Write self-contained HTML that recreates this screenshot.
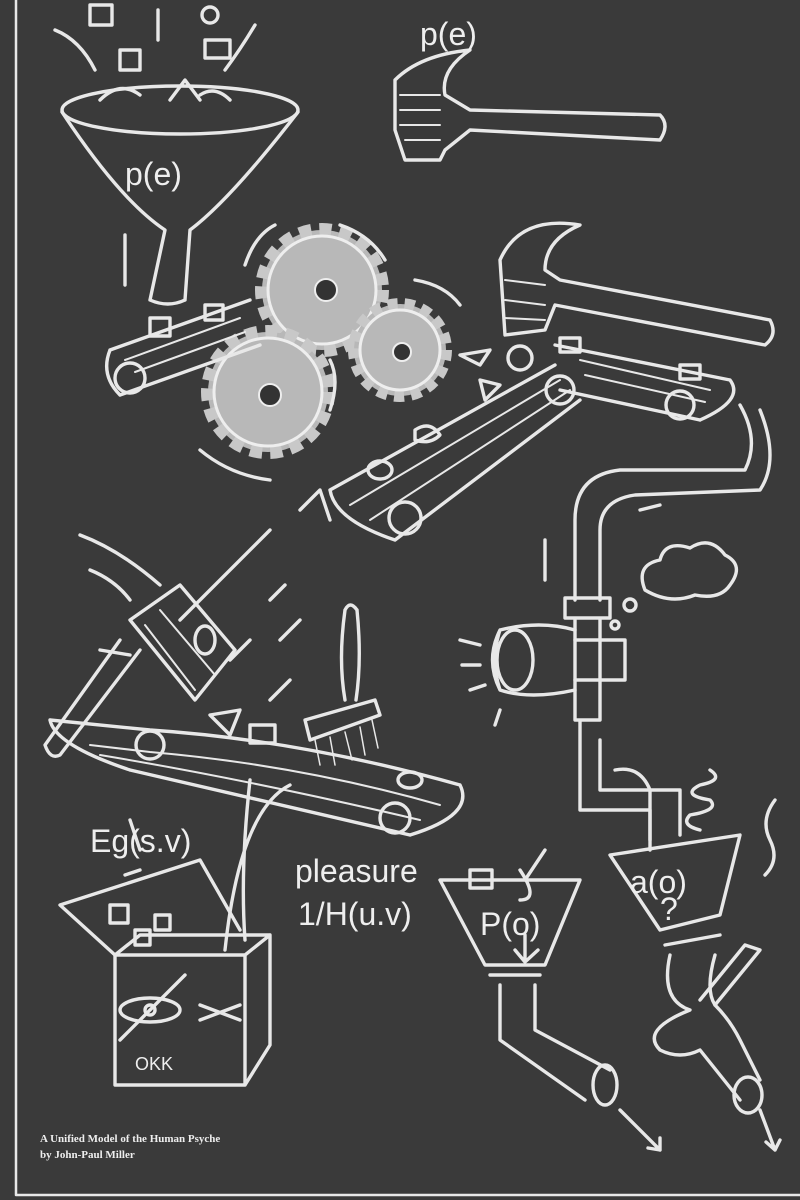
<!DOCTYPE html>
<html><head><meta charset="utf-8"><style>
html,body{margin:0;padding:0;background:#3b3b3b;}
svg{display:block}
text{font-family:"Liberation Sans",sans-serif;fill:#eee}
</style></head><body>
<svg width="800" height="1200" viewBox="0 0 800 1200" xmlns="http://www.w3.org/2000/svg">
<rect width="800" height="1200" fill="#3a3a3a"/>
<!-- gears filled -->
<g fill="#b8b8b8" stroke="#eee" stroke-width="3">
<circle cx="322" cy="290" r="60" stroke-dasharray="12 8" stroke-width="14" stroke="#c8c8c8"/>
<circle cx="322" cy="290" r="54"/>
<circle cx="268" cy="392" r="60" stroke-dasharray="12 8" stroke-width="14" stroke="#c8c8c8"/>
<circle cx="268" cy="392" r="54"/>
<circle cx="400" cy="350" r="46" stroke-dasharray="10 7" stroke-width="12" stroke="#c8c8c8"/>
<circle cx="400" cy="350" r="40"/>
</g>
<g fill="#333" stroke="#eee" stroke-width="2">
<circle cx="326" cy="290" r="11"/><circle cx="270" cy="395" r="11"/><circle cx="402" cy="352" r="9"/>
</g>
<g fill="none" stroke="#e8e8e8" stroke-width="3.4" stroke-linecap="round" stroke-linejoin="round">
<!-- frame -->
<path d="M16 0 V1195 H800" stroke-width="2.5"/>
<!-- top funnel -->
<ellipse cx="180" cy="110" rx="118" ry="24"/>
<path d="M62 112 Q120 200 165 230 L150 300 M298 112 Q230 200 190 230 L185 300 M150 300 Q168 308 185 300"/>
<path d="M100 100 Q120 80 140 95 M170 100 L185 80 200 100 M200 95 Q215 85 230 100"/>
<rect x="90" y="5" width="22" height="20"/><rect x="120" y="50" width="20" height="20"/><rect x="205" y="40" width="25" height="18"/><circle cx="210" cy="15" r="8"/>
<path d="M55 30 Q80 40 95 70 M158 10 V40 M255 25 Q240 50 225 70 M125 235 V285"/>
<!-- hammer 1 -->
<path d="M395 80 Q420 55 470 50 Q440 70 445 95 L470 110 L660 115 Q670 125 660 140 L470 130 L445 150 L440 160 L405 160 L395 130 Z"/>
<path d="M400 95 L440 95 M400 110 L440 110 M400 125 L440 125 M405 140 L440 140" stroke-width="2"/>
<!-- conveyor 1 -->
<path d="M110 350 L250 300 M120 395 L260 345 M110 350 Q100 375 120 395"/>
<path d="M125 360 L240 318 M135 372 L245 332" stroke-width="2"/>
<circle cx="130" cy="378" r="15"/>
<rect x="150" y="318" width="20" height="18"/><rect x="205" y="305" width="18" height="15"/>
<path d="M245 265 Q255 235 275 225 M340 225 Q370 235 385 260 M200 450 Q230 475 270 480 M330 410 Q340 380 330 360 M415 280 Q445 285 460 305"/>
<!-- hammer 2 -->
<path d="M500 260 Q520 215 580 225 Q545 240 545 270 L560 280 L770 320 Q778 335 765 345 L555 305 L545 330 L505 335 Z"/>
<path d="M505 280 L545 285 M505 300 L545 305 M505 318 L545 320" stroke-width="2"/>
<!-- conveyor 2 -->
<path d="M330 490 L555 365 M395 540 L580 400 M330 490 Q335 520 395 540"/>
<path d="M350 505 L560 380 M370 520 L570 390" stroke-width="2"/>
<circle cx="405" cy="518" r="16"/><circle cx="560" cy="390" r="14"/>
<path d="M555 345 L730 380 M560 390 L700 420 M730 380 Q745 400 700 420"/>
<path d="M580 360 L710 390 M585 375 L705 402" stroke-width="2"/>
<circle cx="680" cy="405" r="14"/><circle cx="520" cy="358" r="12"/>
<rect x="560" y="338" width="20" height="14"/><rect x="680" y="365" width="20" height="14"/><path d="M460 355 L490 350 480 365 Z M480 380 L500 385 485 400 Z"/><ellipse cx="380" cy="470" rx="12" ry="9"/><path d="M415 430 Q430 420 440 435 Q430 445 415 440 Z"/>
<!-- pipe -->
<path d="M740 405 Q760 440 745 470 L620 470 Q575 475 575 520 L575 600 M760 410 Q780 460 760 490 L635 495 Q600 500 600 530 L600 600"/>
<rect x="565" y="598" width="45" height="20"/><path d="M575 620 V720 L600 720 V620 M580 720 V810 L650 810 V850 M600 740 V790 L680 790 V835"/>
<path d="M575 690 Q530 700 500 690 Q490 660 500 630 Q540 620 575 630 M500 630 Q485 660 500 690 M575 640 L625 640 L625 680 L575 680"/>
<ellipse cx="515" cy="660" rx="18" ry="30"/>
<path d="M460 640 L480 645 M462 665 H480 M470 690 L485 685 M495 725 L500 710"/>
<path d="M645 590 Q635 565 660 560 Q665 540 690 548 Q710 535 725 555 Q745 565 730 585 Q720 600 695 595 Q670 605 645 590 Z"/>
<circle cx="630" cy="605" r="6"/><circle cx="615" cy="625" r="4"/>
<path d="M545 540 V580 M640 510 L660 505"/>
<!-- sledgehammer -->
<path d="M130 620 L180 585 L235 650 L195 700 Z M140 650 L60 755 Q50 760 45 745 L120 640"/>
<path d="M145 625 L195 690 M160 610 L215 675" stroke-width="2"/>
<ellipse cx="205" cy="640" rx="10" ry="14"/>
<path d="M80 535 Q120 550 160 585 M90 570 Q115 580 130 600 M100 650 L130 655"/>
<!-- broom -->
<path d="M345 610 Q338 660 345 700 M357 610 Q362 660 356 700 M345 610 Q350 600 357 610 M305 720 L375 700 L380 715 L310 740 Z"/>
<path d="M315 740 L320 765 M330 737 L335 765 M345 732 L352 760 M360 727 L365 755 M372 720 L378 748" stroke-width="1.5"/>
<!-- conveyor 3 -->
<path d="M50 720 L150 730 Q300 740 460 785 M130 770 L410 835 M50 720 Q55 745 130 770 M460 785 Q475 815 410 835"/>
<path d="M90 745 L150 752 Q300 765 440 805 M100 755 Q250 780 420 820" stroke-width="2"/>
<circle cx="150" cy="745" r="14"/><circle cx="395" cy="818" r="15"/>
<rect x="250" y="725" width="25" height="18"/><ellipse cx="410" cy="780" rx="12" ry="8"/><path d="M210 715 L240 710 230 735 Z"/>
<path d="M270 700 L290 680 M230 660 L250 640 M280 640 L300 620 M300 510 L320 490 L330 520 M270 600 L285 585"/>
<path d="M270 530 L180 620 M250 780 Q240 870 245 940 M290 785 Q240 810 225 950"/>
<!-- Eg box -->
<path d="M115 955 L245 955 L270 935 L270 1045 L245 1085 L115 1085 Z M245 955 V1085 M115 955 L140 935 L270 935"/>
<path d="M115 955 L60 905 L200 860 L240 930"/>
<rect x="110" y="905" width="18" height="18"/><rect x="135" y="930" width="15" height="15"/><rect x="155" y="915" width="15" height="15"/>
<path d="M125 875 L140 870 M130 820 L140 850"/>
<ellipse cx="150" cy="1010" rx="30" ry="12"/><path d="M120 1040 L185 975"/><circle cx="150" cy="1010" r="5"/>
<path d="M200 1005 L240 1020 M200 1020 L240 1005"/>
<!-- P(o) funnel -->
<path d="M440 880 L580 880 L545 965 L485 965 Z M490 975 L540 975 M500 985 V1040 L585 1100 M535 985 V1030 L610 1070"/>
<ellipse cx="605" cy="1085" rx="12" ry="20"/>
<path d="M525 935 V960 M515 950 L525 962 538 950 M545 850 L525 880 M520 870 Q540 900 520 900"/>
<rect x="470" y="870" width="22" height="18"/>
<!-- a(o) funnel -->
<path d="M610 855 L740 835 L720 915 L660 930 Z M665 945 L720 935 M670 955 Q660 1000 690 1010 Q640 1030 660 1050 Q680 1060 700 1050 L740 1100 M715 955 Q705 990 715 1005 Q730 1020 740 1040 L760 1080"/>
<ellipse cx="748" cy="1095" rx="14" ry="18"/>
<path d="M700 830 Q680 825 690 815 Q720 810 710 800 Q680 795 700 785 Q725 780 710 770"/>
<path d="M700 1000 L745 945 L760 950 L715 1005 M765 875 Q780 860 770 840 Q760 820 775 800"/>
<path d="M615 770 Q640 765 650 790 L650 840"/>
<!-- bottom arrows -->
<path d="M620 1110 L660 1150 M648 1148 L660 1150 660 1138 M760 1110 L775 1150 M766 1142 L775 1150 780 1140"/>
</g>
<g font-size="32">
<text x="125" y="185">p(e)</text>
<text x="420" y="45">p(e)</text>
<text x="90" y="852">Eg(s.v)</text>
<text x="295" y="882">pleasure</text>
<text x="298" y="925">1/H(u.v)</text>
<text x="480" y="935">P(o)</text>
<text x="630" y="893">a(o)</text>
<text x="660" y="920">?</text>
<text x="135" y="1070" font-size="18">OKK</text>
</g>
<text x="40" y="1142" font-size="11" font-weight="bold" style="font-family:'Liberation Serif',serif" fill="#ddd">A Unified Model of the Human Psyche</text>
<text x="40" y="1158" font-size="11" font-weight="bold" style="font-family:'Liberation Serif',serif" fill="#ddd">by John-Paul Miller</text>
</svg>
</body></html>
